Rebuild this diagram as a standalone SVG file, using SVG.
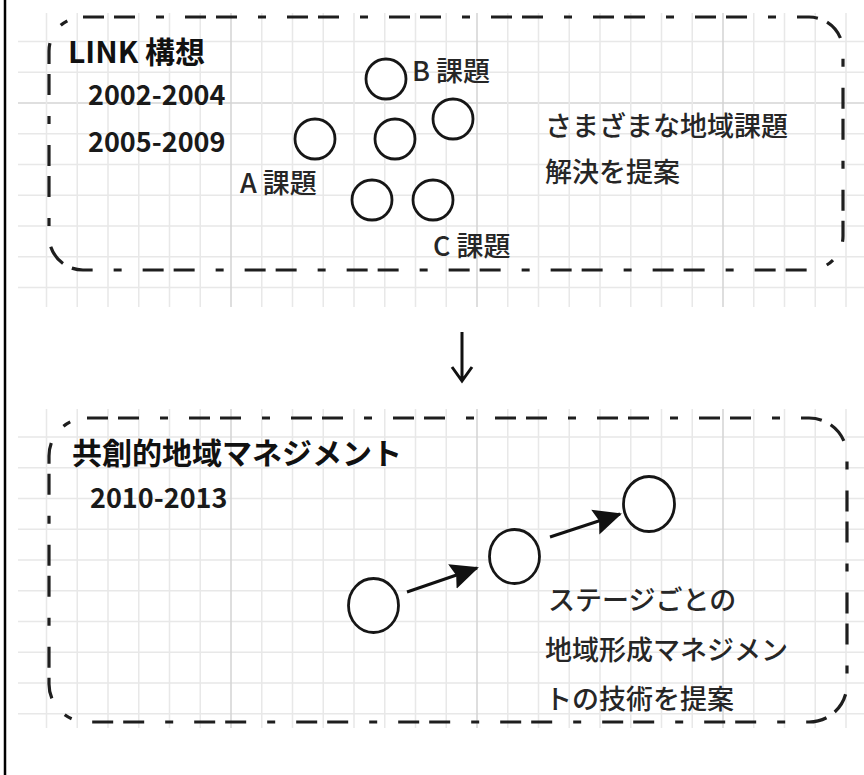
<svg xmlns="http://www.w3.org/2000/svg" width="864" height="775" viewBox="0 0 864 775">
<defs>
<style>
.g{stroke:#e8e8e8;stroke-width:1.5}
.gd{stroke:#d4d4d4;stroke-width:1.5}
.box{fill:none;stroke:#1e1e1e;stroke-width:3.2;stroke-dasharray:21 10 21 21 8 21}
.c{fill:#fff;stroke:#161616;stroke-width:2.8}
.t{font-family:"Noto Sans CJK JP","Noto Sans",sans-serif;font-size:27px;font-weight:500;fill:#262626}
.b{font-family:"Noto Sans CJK JP","Noto Sans",sans-serif;font-size:30px;font-weight:bold;fill:#111}
.n{font-family:"Noto Sans CJK JP","Noto Sans",sans-serif;font-size:27px;font-weight:bold;fill:#1a1a1a}
.ln{stroke:#111;stroke-width:3;fill:none}
</style>
<marker id="ah" viewBox="0 0 28 28" refX="26" refY="14" markerWidth="28" markerHeight="28" markerUnits="userSpaceOnUse" orient="auto">
<path d="M0,1 L28,14 L0,27 L4,14 Z" fill="#111"/>
</marker>
</defs>
<rect width="864" height="775" fill="#fff"/>
<line x1="5" y1="0" x2="5" y2="775" stroke="#000" stroke-width="2.5"/>
<g id="grid-top">
<path class="g" d="M18,41.5H864M18,72.25H864M18,133.75H864M18,164.5H864M18,195.25H864M18,226H864M18,256.75H864M18,287.5H864"/>
<path class="gd" d="M18,103H864"/>
<path class="g" d="M46.5,13V307M77.25,13V307M108,13V307M138.75,13V307M169.5,13V307M200.25,13V307M261.75,13V307M292.5,13V307M323.25,13V307M354,13V307M384.75,13V307M415.5,13V307M446.25,13V307M507.75,13V307M538.5,13V307M569.25,13V307M600,13V307M630.75,13V307M661.5,13V307M692.25,13V307M753.75,13V307M784.5,13V307M815.25,13V307M846,13V307"/>
<path class="gd" d="M231,13V307M477,13V307M723,13V307"/>
</g>
<g id="grid-bottom">
<path class="g" d="M18,437H864M18,467.75H864M18,498.5H864M18,529.25H864M18,560H864M18,590.75H864M18,621.5H864M18,652.25H864M18,683H864M18,713.75H864"/>
<path class="g" d="M46.5,409V728M77.25,409V728M108,409V728M138.75,409V728M169.5,409V728M200.25,409V728M261.75,409V728M292.5,409V728M323.25,409V728M354,409V728M384.75,409V728M415.5,409V728M446.25,409V728M507.75,409V728M538.5,409V728M569.25,409V728M600,409V728M630.75,409V728M661.5,409V728M692.25,409V728M753.75,409V728M784.5,409V728M815.25,409V728M846,409V728"/>
<path class="gd" d="M231,409V728M477,409V728M723,409V728"/>
</g>
<g id="box-link">
<rect class="box" x="49" y="17" width="794" height="253" rx="34" ry="34"/>
<text class="b" x="68" y="63">LINK 構想</text>
<text class="n" x="88" y="105">2002-2004</text>
<text class="n" x="88" y="152">2005-2009</text>
<text class="t" x="545" y="136">さまざまな地域課題</text>
<text class="t" x="545" y="182">解決を提案</text>
</g>
<g id="issue-a"><circle class="c" cx="315" cy="139" r="20"/><text class="t" x="240" y="193">A 課題</text></g>
<g id="issue-b"><circle class="c" cx="386" cy="79" r="20"/><text class="t" x="412" y="81">B 課題</text></g>
<g id="issue-mid"><circle class="c" cx="395" cy="139" r="20"/></g>
<g id="issue-right"><circle class="c" cx="453" cy="119" r="20"/></g>
<g id="issue-c1"><circle class="c" cx="372" cy="200" r="20"/></g>
<g id="issue-c2"><circle class="c" cx="433" cy="200" r="20"/><text class="t" x="433" y="256">C 課題</text></g>
<g id="box-kyoso">
<rect class="box" x="49" y="418" width="798" height="304" rx="38" ry="38"/>
<text class="b" x="72" y="464">共創的地域マネジメント</text>
<text class="n" x="90" y="508">2010-2013</text>
<text class="t" x="548" y="610">ステージごとの</text>
<text class="t" x="545" y="660">地域形成マネジメン</text>
<text class="t" x="545" y="709">トの技術を提案</text>
</g>
<g id="stage1"><ellipse class="c" cx="373.5" cy="605.5" rx="25" ry="27"/></g>
<g id="stage2"><ellipse class="c" cx="514.5" cy="556.5" rx="25" ry="27"/></g>
<g id="stage3"><ellipse class="c" cx="649" cy="504" rx="25.5" ry="27.5"/></g>
<g id="connectors">
<path class="ln" d="M462,332V380M452,367L462,381L472,367" stroke-width="2.2"/>
<line class="ln" x1="407" y1="592" x2="477" y2="568" marker-end="url(#ah)"/>
<line class="ln" x1="550" y1="537" x2="620" y2="514" marker-end="url(#ah)"/>
</g>
</svg>
